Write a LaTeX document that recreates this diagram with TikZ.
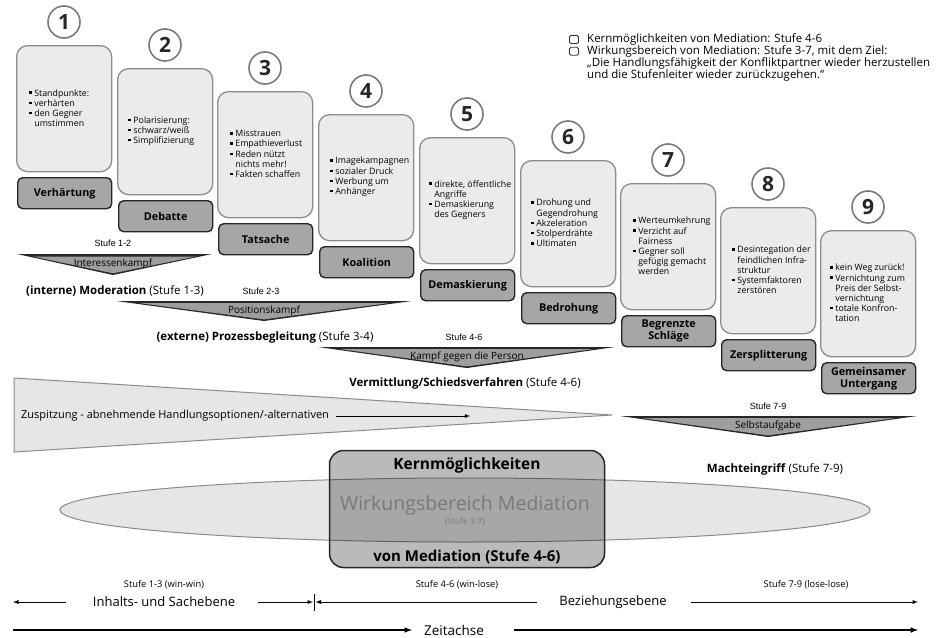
\documentclass[tikz,border=0pt]{standalone}
\usepackage{fontspec}
\setmainfont{Open Sans}
\newfontfamily\arialfont{Liberation Sans}

\definecolor{boxfill}{HTML}{EBEBEB}
\definecolor{boxline}{HTML}{8C8C8C}
\definecolor{labfill}{HTML}{A6A6A6}
\definecolor{nrline}{HTML}{7A7A7A}
\definecolor{keilgrau}{HTML}{9E9E9E}
\definecolor{hellgrau}{HTML}{E6E6E6}
\definecolor{grau}{HTML}{8A8A8A}
\definecolor{schriftgrau}{HTML}{7A7A7A}

\def\pkt{\rule[0.45ex]{2.4pt}{2.4pt}\hspace{2.8pt}}
\def\ein{\hspace*{5.2pt}}

\tikzset{
  stufenbox/.style={draw=boxline, fill=boxfill, line width=1.3pt, rounded corners=11pt,
    minimum width=95pt, minimum height=126pt, anchor=north west, inner sep=0pt},
  stufenname/.style={draw=black!85, fill=labfill, line width=1.4pt, rounded corners=5pt,
    minimum width=94pt, minimum height=31pt, anchor=north west, inner sep=0pt,
    align=center, font=\fontsize{10.8}{12}\selectfont\bfseries},
  stufennr/.style={circle, draw=nrline, fill=white, line width=1.6pt, minimum size=32pt,
    inner sep=0pt, text=black!85, font=\fontsize{21}{21}\selectfont\bfseries},
  stichpunkte/.style={anchor=west, align=left, inner sep=0pt,
    font=\fontsize{8.8}{10.2}\selectfont},
  hinweis/.style={inner sep=0pt, font=\arialfont\fontsize{9}{10}\selectfont},
  keiltext/.style={inner sep=0pt, font=\fontsize{10}{11}\selectfont},
  verfahren/.style={inner sep=0pt, font=\fontsize{11.5}{13}\selectfont},
  legkasten/.style={draw=black!80, rounded corners=1.5pt, line width=0.8pt,
    minimum width=9pt, minimum height=8pt, inner sep=0pt},
  legtext/.style={inner sep=0pt, align=left, font=\fontsize{11.5}{11.8}\selectfont},
  ebene/.style={inner sep=0pt, font=\fontsize{13}{15}\selectfont},
  klein/.style={inner sep=0pt, font=\fontsize{9.3}{11}\selectfont},
  pfeil/.style={-latex, line width=0.9pt},
  zeitpfeil/.style={-latex, line width=1.5pt}
}

\begin{document}
\begin{tikzpicture}[x=1pt,y=-1pt]
  \fill[white] (0,0) rectangle (936,637);
  \useasboundingbox (0,0) rectangle (936,637);

  % Legende
  \node[legkasten] (leg1) at (574,39.5) {};
  \node[legtext, anchor=west] (legt1) at (587,39.5) {Kernmöglichkeiten von Mediation: Stufe 4-6};
  \node[legkasten] (leg2) at (574,51.3) {};
  \node[legtext, anchor=north west] (legt2) at (587,45.5)
    {Wirkungsbereich von Mediation: Stufe 3-7, mit dem Ziel:\\
     „Die Handlungsfähigkeit der Konfliktpartner wieder herzustellen\\
     und die Stufenleiter wieder zurückzugehen.“};

  % Stufe 1
  \node[stufenbox] (box1) at (16,45) {};
  \node[stichpunkte] (txt1) at (29,108) {\pkt Standpunkte:\\\pkt verhärten\\\pkt den Gegner\\\ein umstimmen};
  \node[stufenname] (name1) at (17,177) {Verhärtung};
  \node[stufennr] (nr1) at (64,22) {1};

  % Stufe 2
  \node[stufenbox] (box2) at (117,68) {};
  \node[stichpunkte] (txt2) at (128,131) {\pkt Polarisierung:\\\pkt schwarz/weiß\\\pkt Simplifizierung};
  \node[stufenname] (name2) at (118,200) {Debatte};
  \node[stufennr] (nr2) at (165,45) {2};

  % Stufe 3
  \node[stufenbox] (box3) at (217,91) {};
  \node[stichpunkte] (txt3) at (230,154) {\pkt Misstrauen\\\pkt Empathieverlust\\\pkt Reden nützt\\\ein nichts mehr!\\\pkt Fakten schaffen};
  \node[stufenname] (name3) at (218,223) {Tatsache};
  \node[stufennr] (nr3) at (265,68) {3};

  % Stufe 4
  \node[stufenbox] (box4) at (318,114) {};
  \node[stichpunkte] (txt4) at (330,177) {\pkt Imagekampagnen\\\pkt sozialer Druck\\\pkt Werbung um\\\pkt Anhänger};
  \node[stufenname] (name4) at (319,246) {Koalition};
  \node[stufennr] (nr4) at (366,91) {4};

  % Stufe 5
  \node[stufenbox] (box5) at (419,137) {};
  \node[stichpunkte] (txt5) at (429,200) {\pkt direkte, öffentliche\\\ein Angriffe\\\pkt Demaskierung\\\ein des Gegners};
  \node[stufenname] (name5) at (420,269) {Demaskierung};
  \node[stufennr] (nr5) at (467,114) {5};

  % Stufe 6
  \node[stufenbox] (box6) at (520,160) {};
  \node[stichpunkte] (txt6) at (531,223) {\pkt Drohung und\\\ein Gegendrohung\\\pkt Akzeleration\\\pkt Stolperdrähte\\\pkt Ultimaten};
  \node[stufenname] (name6) at (521,292) {Bedrohung};
  \node[stufennr] (nr6) at (568,137) {6};

  % Stufe 7
  \node[stufenbox] (box7) at (620,183) {};
  \node[stichpunkte] (txt7) at (633,246) {\pkt Werteumkehrung\\\pkt Verzicht auf\\\ein Fairness\\\pkt Gegner soll\\\ein gefügig gemacht\\\ein werden};
  \node[stufenname] (name7) at (621,315) {Begrenzte\\Schläge};
  \node[stufennr] (nr7) at (668,160) {7};

  % Stufe 8
  \node[stufenbox] (box8) at (720,207) {};
  \node[stichpunkte] (txt8) at (732,270) {\pkt Desintegation der\\\ein feindlichen Infra-\\\ein struktur\\\pkt Systemfaktoren\\\ein zerstören};
  \node[stufenname] (name8) at (721,339) {Zersplitterung};
  \node[stufennr] (nr8) at (768,184) {8};

  % Stufe 9
  \node[stufenbox] (box9) at (820,230) {};
  \node[stichpunkte] (txt9) at (830,293) {\pkt kein Weg zurück!\\\pkt Vernichtung zum\\\ein Preis der Selbst-\\\ein vernichtung\\\pkt totale Konfron-\\\ein tation};
  \node[stufenname] (name9) at (821,362) {Gemeinsamer\\Untergang};
  \node[stufennr] (nr9) at (868,207) {9};

  % Keil Stufe 1-2
  \fill[black!85] (17,254) -- (212,254) -- (113,275) -- cycle;
  \fill[keilgrau] (33,256.5) -- (196,256.5) -- (113,273.3) -- cycle;
  \node[hinweis] (hinw12) at (113,243) {Stufe 1-2};
  \node[keiltext] (kampf12) at (113,264) {Interessenkampf};
  \node[verfahren] (moder) at (115,291) {\textbf{(interne) Moderation} (Stufe 1-3)};

  % Keil Stufe 2-3
  \fill[black!85] (116,301) -- (412,301) -- (264,321) -- cycle;
  \fill[keilgrau] (140,303.2) -- (388,303.2) -- (264,319.4) -- cycle;
  \node[hinweis] (hinw23) at (261,291) {Stufe 2-3};
  \node[keiltext] (kampf23) at (264,311) {Positionskampf};
  \node[verfahren] (prozess) at (265,337) {\textbf{(externe) Prozessbegleitung} (Stufe 3-4)};

  % Keil Stufe 4-6
  \fill[black!85] (318,347) -- (615,347) -- (467,368) -- cycle;
  \fill[keilgrau] (341,349.2) -- (592,349.2) -- (467,366.4) -- cycle;
  \node[hinweis] (hinw46) at (464,337) {Stufe 4-6};
  \node[keiltext] (kampf46) at (467,357) {Kampf gegen die Person};
  \node[verfahren] (vermittl) at (465,383) {\textbf{Vermittlung/Schiedsverfahren} (Stufe 4-6)};

  % Keil Stufe 7-9
  \fill[black!85] (620,416) -- (917,416) -- (768,437) -- cycle;
  \fill[keilgrau] (643,418.2) -- (894,418.2) -- (768,435.4) -- cycle;
  \node[hinweis] (hinw79) at (768,406) {Stufe 7-9};
  \node[keiltext] (kampf79) at (768,426) {Selbstaufgabe};
  \node[verfahren] (macht) at (775,469) {\textbf{Machteingriff} (Stufe 7-9)};

  % Zuspitzung
  \draw[draw=grau, fill=hellgrau, line width=1pt] (14,378) -- (612,415) -- (14,452) -- cycle;
  \node[verfahren, anchor=west, font=\fontsize{11}{13}\selectfont] (zuspitz) at (21,416)
    {Zuspitzung - abnehmende Handlungsoptionen/-alternativen};
  \coordinate (zspitze) at (470,416);
  \draw[-latex, line width=0.8pt] ([xshift=7pt]zuspitz.east) -- (zspitze);

  % Wirkungsbereich und Kernmoeglichkeiten
  \draw[draw=grau, fill=hellgrau, line width=1pt] (465,510) ellipse [x radius=405, y radius=32];
  \node[draw=black!85, fill=black, fill opacity=0.27, draw opacity=1, line width=1.5pt,
        rounded corners=14pt, minimum width=275pt, minimum height=117pt] (kern) at (467,509) {};
  \node[inner sep=0pt, font=\fontsize{15.5}{17}\selectfont\bfseries] (kern1) at (467,465) {Kernmöglichkeiten};
  \node[inner sep=0pt, text=schriftgrau, font=\fontsize{19.5}{21}\selectfont] (wirk) at (465,505) {Wirkungsbereich Mediation};
  \node[inner sep=0pt, text=schriftgrau, font=\fontsize{8.5}{9}\selectfont] (wirk2) at (465,522) {(Stufe 3-7)};
  \node[inner sep=0pt, font=\fontsize{15}{17}\selectfont\bfseries] (kern2) at (467,557) {von Mediation (Stufe 4-6)};

  % Ebenen
  \node[klein] (s13) at (164,585) {Stufe 1-3 (win-win)};
  \node[ebene] (inhalt) at (164,602) {Inhalts- und Sachebene};
  \coordinate (inhaltlinks) at (13,602);
  \coordinate (grenze) at (314,602);
  \draw[pfeil] ([xshift=-27pt]inhalt.west) -- (inhaltlinks);
  \draw[pfeil] ([xshift=23pt]inhalt.east) -- ([xshift=-1pt]grenze);
  \draw[line width=0.8pt] ([yshift=8pt]grenze) -- ([yshift=-9pt]grenze);
  \node[klein] (s46) at (457,585) {Stufe 4-6 (win-lose)};
  \node[ebene] (bez) at (613,602) {Beziehungsebene};
  \draw[pfeil] ([xshift=-22pt]bez.west) -- ([xshift=1.5pt]grenze);
  \coordinate (bezrechts) at (918,602);
  \draw[pfeil] ([xshift=24pt]bez.east) -- (bezrechts);
  \node[klein] (s79) at (806,585) {Stufe 7-9 (lose-lose)};

  % Zeitachse
  \node[ebene, font=\fontsize{13.5}{15}\selectfont] (zeit) at (454,630) {Zeitachse};
  \coordinate (zeitlinks) at (13,630);
  \coordinate (zeitrechts) at (918,630);
  \draw[zeitpfeil] (zeitlinks) -- ([xshift=-12pt]zeit.west);
  \draw[zeitpfeil] ([xshift=30pt]zeit.east) -- (zeitrechts);
\end{tikzpicture}
\end{document}
